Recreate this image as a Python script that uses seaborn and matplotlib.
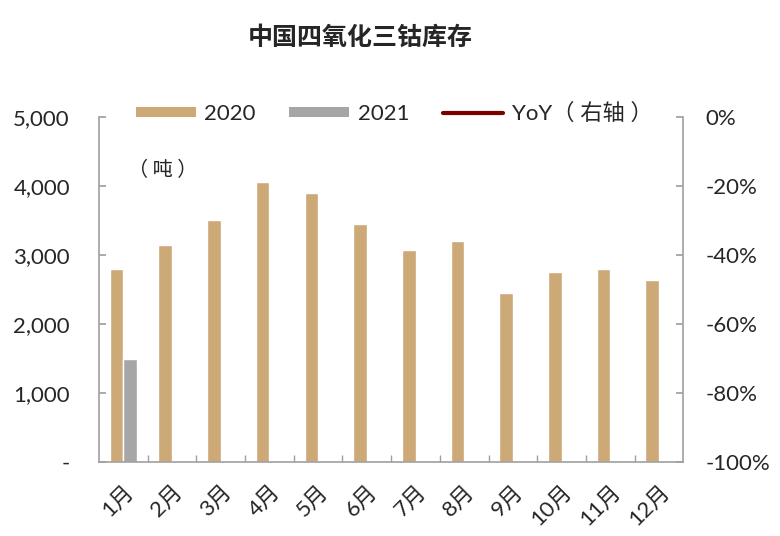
import matplotlib
matplotlib.use("Agg")
import matplotlib.pyplot as plt
import seaborn as sns
import numpy as np
import pandas as pd
from matplotlib.patches import Patch
from matplotlib.lines import Line2D
from matplotlib.ticker import FuncFormatter, FixedLocator

months = ["1月", "2月", "3月", "4月", "5月", "6月", "7月", "8月", "9月", "10月", "11月", "12月"]
v2020 = [2800, 3150, 3500, 4050, 3900, 3450, 3070, 3200, 2450, 2750, 2800, 2640]
v2021 = [1490, None, None, None, None, None, None, None, None, None, None, None]
yoy = [-0.47, None, None, None, None, None, None, None, None, None, None, None]
left_ticks = [0, 1000, 2000, 3000, 4000, 5000]
right_ticks = [0, -0.2, -0.4, -0.6, -0.8, -1.0]

sns.set_theme(style="white")
FAM = ['Lato', 'Noto Sans CJK SC', 'DejaVu Sans']
plt.rcParams['font.family'] = FAM

c2020 = "#CDA978"
c2021 = "#A6A6A6"
cyoy = "#7B0000"
spine_c = "#A0A0A0"

df = pd.DataFrame({
    "month": months * 2,
    "value": v2020 + [np.nan if v is None else v for v in v2021],
    "year": ["2020"] * 12 + ["2021"] * 12,
})

fig = plt.figure(figsize=(7.8, 5.36), dpi=100)
ax = fig.add_axes([0.127, 0.138, 0.749, 0.644])
sns.barplot(data=df, x="month", y="value", hue="year", palette=[c2020, c2021],
            width=0.56, ax=ax, legend=False, saturation=1)

ax.set_xlim(-0.5, 11.5)
ax.set_ylim(0, 5000)
ax.yaxis.set_major_locator(FixedLocator(left_ticks))
ax.yaxis.set_major_formatter(FuncFormatter(lambda v, p: "-" if v == 0 else f"{int(v):,}"))
ax.set_xlabel("")
ax.set_ylabel("")
ax.set_xticks(range(12))
ax.set_xticklabels(months, rotation=45, ha="right", rotation_mode="anchor", family=FAM)
ax.set_xticks(np.arange(0.5, 11.5, 1), minor=True)
ax.tick_params(axis="x", which="major", length=0, labelsize=16, pad=14)
ax.tick_params(axis="x", which="minor", length=5, direction="in", color=spine_c, bottom=True)
ax.tick_params(axis="y", which="major", length=5, direction="in", color=spine_c, labelsize=16, pad=21, left=True)
for lab in ax.get_yticklabels():
    lab.set_horizontalalignment("right")

ax2 = ax.twinx()
ax2.set_position(ax.get_position())
yoy_df = pd.DataFrame({"month": list(range(12)), "yoy": [np.nan if v is None else v for v in yoy]})
sns.lineplot(data=yoy_df, x="month", y="yoy", color=cyoy, lw=2.5, ax=ax2)
ax2.set_ylim(-1.0, 0)
ax2.yaxis.set_major_locator(FixedLocator(right_ticks))
ax2.yaxis.set_major_formatter(FuncFormatter(lambda v, p: f"{v*100:.0f}%"))
ax2.set_ylabel("")
ax2.set_xlabel("")
ax2.tick_params(axis="y", which="major", length=5, direction="in", color=spine_c, labelsize=16, pad=16, right=True)
ax2.set_xlim(-0.5, 11.5)

for a in (ax, ax2):
    a.spines["top"].set_visible(False)
    for s in ("left", "right", "bottom"):
        a.spines[s].set_color(spine_c)
        a.spines[s].set_linewidth(1.2)
ax.spines["right"].set_visible(False)
ax2.spines["left"].set_visible(False)
ax2.spines["bottom"].set_visible(False)

handles = [Patch(facecolor=c2020, edgecolor="none"),
           Patch(facecolor=c2021, edgecolor="none"),
           Line2D([0], [0], color=cyoy, lw=3)]
leg = ax2.legend(handles, ["2020", "2021", "YoY（ 右轴 ）"], ncol=3, loc="center",
                 bbox_to_anchor=(0.505, 1.01), frameon=True,
                 handlelength=2.7, handleheight=0.35, columnspacing=1.5, handletextpad=0.4,
                 borderaxespad=0, facecolor="white", edgecolor="none", framealpha=1,
                 prop={'family': FAM, 'size': 16})

ax.text(0.05, 0.845, "（ 吨 ）", transform=ax.transAxes, fontsize=14.5,
        family=['Noto Sans CJK SC'], ha="left", va="center")

fig.text(0.462, 0.93, "中国四氧化三钴库存", fontsize=18, fontweight="bold",
         family=['Noto Sans CJK SC'], ha="center", va="center")

fig.savefig("out.png", dpi=100, facecolor="white")
